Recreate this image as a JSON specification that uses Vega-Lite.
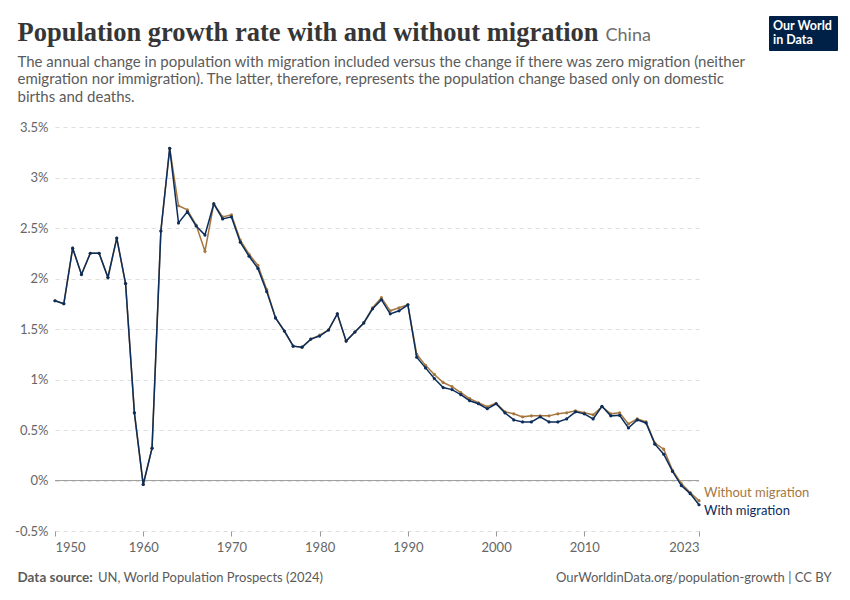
{
  "$schema": "https://vega.github.io/schema/vega-lite/v6.json",
  "description": "China: annual population growth rate with and without migration, 1950-2023",
  "autosize": "none",
  "width": 644,
  "height": 404,
  "padding": {"left": 55, "top": 127, "right": 151, "bottom": 69},
  "background": "white",
  "data": {
    "values": [
      {"year": 1950, "with": 1.78, "without": 1.78},
      {"year": 1951, "with": 1.75, "without": 1.75},
      {"year": 1952, "with": 2.30, "without": 2.30},
      {"year": 1953, "with": 2.04, "without": 2.04},
      {"year": 1954, "with": 2.25, "without": 2.25},
      {"year": 1955, "with": 2.25, "without": 2.25},
      {"year": 1956, "with": 2.01, "without": 2.01},
      {"year": 1957, "with": 2.40, "without": 2.40},
      {"year": 1958, "with": 1.95, "without": 1.95},
      {"year": 1959, "with": 0.67, "without": 0.67},
      {"year": 1960, "with": -0.04, "without": -0.04},
      {"year": 1961, "with": 0.32, "without": 0.32},
      {"year": 1962, "with": 2.47, "without": 2.47},
      {"year": 1963, "with": 3.29, "without": 3.29},
      {"year": 1964, "with": 2.55, "without": 2.72},
      {"year": 1965, "with": 2.66, "without": 2.68},
      {"year": 1966, "with": 2.52, "without": 2.53},
      {"year": 1967, "with": 2.43, "without": 2.27},
      {"year": 1968, "with": 2.74, "without": 2.74},
      {"year": 1969, "with": 2.59, "without": 2.61},
      {"year": 1970, "with": 2.61, "without": 2.63},
      {"year": 1971, "with": 2.36, "without": 2.38},
      {"year": 1972, "with": 2.22, "without": 2.24},
      {"year": 1973, "with": 2.10, "without": 2.13},
      {"year": 1974, "with": 1.87, "without": 1.89},
      {"year": 1975, "with": 1.61, "without": 1.61},
      {"year": 1976, "with": 1.48, "without": 1.48},
      {"year": 1977, "with": 1.33, "without": 1.33},
      {"year": 1978, "with": 1.32, "without": 1.32},
      {"year": 1979, "with": 1.40, "without": 1.40},
      {"year": 1980, "with": 1.43, "without": 1.44},
      {"year": 1981, "with": 1.49, "without": 1.49},
      {"year": 1982, "with": 1.65, "without": 1.65},
      {"year": 1983, "with": 1.38, "without": 1.38},
      {"year": 1984, "with": 1.47, "without": 1.47},
      {"year": 1985, "with": 1.56, "without": 1.56},
      {"year": 1986, "with": 1.70, "without": 1.71},
      {"year": 1987, "with": 1.79, "without": 1.81},
      {"year": 1988, "with": 1.65, "without": 1.68},
      {"year": 1989, "with": 1.68, "without": 1.71},
      {"year": 1990, "with": 1.74, "without": 1.74},
      {"year": 1991, "with": 1.22, "without": 1.25},
      {"year": 1992, "with": 1.115, "without": 1.14},
      {"year": 1993, "with": 1.01, "without": 1.05},
      {"year": 1994, "with": 0.92, "without": 0.97},
      {"year": 1995, "with": 0.90, "without": 0.93},
      {"year": 1996, "with": 0.85, "without": 0.87},
      {"year": 1997, "with": 0.79, "without": 0.81},
      {"year": 1998, "with": 0.76, "without": 0.77},
      {"year": 1999, "with": 0.71, "without": 0.73},
      {"year": 2000, "with": 0.76, "without": 0.765},
      {"year": 2001, "with": 0.67, "without": 0.68},
      {"year": 2002, "with": 0.60, "without": 0.66},
      {"year": 2003, "with": 0.58, "without": 0.63},
      {"year": 2004, "with": 0.58, "without": 0.64},
      {"year": 2005, "with": 0.63, "without": 0.64},
      {"year": 2006, "with": 0.58, "without": 0.64},
      {"year": 2007, "with": 0.58, "without": 0.66},
      {"year": 2008, "with": 0.61, "without": 0.67},
      {"year": 2009, "with": 0.68, "without": 0.69},
      {"year": 2010, "with": 0.66, "without": 0.67},
      {"year": 2011, "with": 0.61, "without": 0.65},
      {"year": 2012, "with": 0.735, "without": 0.73},
      {"year": 2013, "with": 0.64, "without": 0.66},
      {"year": 2014, "with": 0.645, "without": 0.67},
      {"year": 2015, "with": 0.52, "without": 0.56},
      {"year": 2016, "with": 0.60, "without": 0.61},
      {"year": 2017, "with": 0.57, "without": 0.58},
      {"year": 2018, "with": 0.36, "without": 0.37},
      {"year": 2019, "with": 0.26, "without": 0.31},
      {"year": 2020, "with": 0.09, "without": 0.10},
      {"year": 2021, "with": -0.05, "without": -0.03},
      {"year": 2022, "with": -0.13, "without": -0.12},
      {"year": 2023, "with": -0.24, "without": -0.20}
    ]
  },
  "resolve": {"axis": {"x": "independent", "y": "independent"}},
  "layer": [
    {
      "mark": {"type": "rule", "color": "#a1a1a1", "strokeWidth": 1},
      "encoding": {
        "y": {"datum": 0, "type": "quantitative", "axis": null, "scale": {"domain": [-0.5, 3.5], "nice": false}}
      }
    },
    {
      "mark": {"type": "line", "color": "#a5773f", "strokeWidth": 1.5, "point": {"filled": true, "size": 10, "color": "#a5773f"}},
      "encoding": {
        "x": {
          "field": "year", "type": "quantitative",
          "scale": {"domain": [1950, 2023], "nice": false, "zero": false},
          "axis": {
            "orient": "top", "labels": false, "ticks": false, "domain": false, "grid": false,
            "title": "Population growth rate with and without migration",
            "titleFont": "Liberation Serif", "titleFontSize": 26.5, "titleFontWeight": "bold", "titleColor": "#363636",
            "titleX": -38, "titleY": -87, "titleAlign": "left", "titleBaseline": "alphabetic", "titleLimit": 1000
          }
        },
        "y": {
          "field": "without", "type": "quantitative",
          "scale": {"domain": [-0.5, 3.5], "nice": false},
          "axis": {
            "orient": "left", "labels": false, "ticks": false, "domain": false, "grid": false,
            "title": "China",
            "titleFont": "Lato", "titleFontSize": 18, "titleFontWeight": "normal", "titleColor": "#6e6e6e",
            "titleAngle": 0, "titleX": 550, "titleY": -87, "titleAlign": "left", "titleBaseline": "alphabetic", "titleLimit": 1000
          }
        }
      }
    },
    {
      "mark": {"type": "line", "color": "#0b2d5b", "strokeWidth": 1.5, "point": {"filled": true, "size": 10, "color": "#0b2d5b"}},
      "encoding": {
        "x": {
          "field": "year", "type": "quantitative",
          "scale": {"domain": [1950, 2023], "nice": false, "zero": false},
          "axis": {
            "orient": "bottom", "values": [1950, 1960, 1970, 1980, 1990, 2000, 2010, 2023], "format": "d",
            "labelFlush": true, "labelFont": "Lato", "labelFontSize": 13, "labelColor": "#666666",
            "labelPadding": 5, "tickSize": 5, "tickColor": "#9a9a9a", "domain": false, "grid": false,
            "title": "Data source:",
            "titleFont": "Lato", "titleFontSize": 13.5, "titleFontWeight": "bold", "titleColor": "#5b5b5b",
            "titleX": -38, "titleY": 50.5, "titleAlign": "left", "titleBaseline": "alphabetic", "titleLimit": 1000
          }
        },
        "y": {
          "field": "with", "type": "quantitative",
          "scale": {"domain": [-0.5, 3.5], "nice": false},
          "axis": {
            "orient": "left", "values": [-0.5, 0, 0.5, 1, 1.5, 2, 2.5, 3, 3.5],
            "labelExpr": "datum.value + '%'",
            "labelFont": "Lato", "labelFontSize": 13, "labelColor": "#666666", "labelPadding": 7,
            "ticks": false, "tickSize": 0, "domain": false,
            "grid": true, "gridColor": "#dddddd", "gridDash": [4, 4], "gridWidth": 1,
            "title": [
              "The annual change in population with migration included versus the change if there was zero migration (neither",
              "emigration nor immigration). The latter, therefore, represents the population change based only on domestic",
              "births and deaths."
            ],
            "titleFont": "Lato", "titleFontSize": 15, "titleFontWeight": "normal", "titleColor": "#5b5b5b",
            "titleAngle": 0, "titleX": -38, "titleY": -60.5, "titleAlign": "left", "titleBaseline": "alphabetic",
            "titleLineHeight": 17.3, "titleLimit": 1000
          }
        }
      }
    },
    {
      "transform": [{"filter": "datum.year == 2023"}],
      "mark": {"type": "text", "align": "left", "baseline": "alphabetic", "dx": 5, "dy": -3.5, "font": "Lato", "fontSize": 13},
      "encoding": {
        "x": {
          "field": "year", "type": "quantitative",
          "axis": {
            "orient": "bottom", "labels": false, "ticks": false, "domain": false, "grid": false,
            "title": "UN, World Population Prospects (2024)",
            "titleFont": "Lato", "titleFontSize": 13, "titleFontWeight": "normal", "titleColor": "#5b5b5b",
            "titleX": 42.5, "titleY": 50.5, "titleAlign": "left", "titleBaseline": "alphabetic", "titleLimit": 1000
          }
        },
        "y": {
          "field": "without", "type": "quantitative",
          "axis": {
            "orient": "right", "labels": false, "ticks": false, "domain": false, "grid": false,
            "title": "OurWorldinData.org/population-growth | CC BY",
            "titleFont": "Lato", "titleFontSize": 13, "titleFontWeight": "normal", "titleColor": "#5b5b5b",
            "titleAngle": 0, "titleX": 132, "titleY": 454.7, "titleAlign": "right", "titleBaseline": "alphabetic", "titleLimit": 1000
          }
        },
        "text": {"value": "Without migration"},
        "color": {
          "datum": "Without migration",
          "scale": {"domain": ["With migration", "Without migration"], "range": ["#0b2d5b", "#a5773f"]},
          "legend": {
            "orient": "none", "legendX": 714, "legendY": -111, "values": [],
            "fillColor": "#002147", "padding": 4, "strokeColor": "#002147",
            "title": ["Our World", "\u00a0\u00a0\u00a0in Data"], "titleColor": "white", "titleFont": "Lato",
            "titleFontWeight": "bold", "titleFontSize": 12.5, "titleLineHeight": 13.5,
            "titleAlign": "left", "titleAnchor": "start", "titlePadding": 0
          }
        }
      }
    },
    {
      "transform": [{"filter": "datum.year == 2023"}],
      "mark": {"type": "text", "align": "left", "baseline": "alphabetic", "dx": 5, "dy": 10.7, "font": "Lato", "fontSize": 13},
      "encoding": {
        "x": {"field": "year", "type": "quantitative", "axis": null},
        "y": {"field": "with", "type": "quantitative", "axis": null},
        "text": {"value": "With migration"},
        "color": {"datum": "With migration"}
      }
    }
  ],
  "config": {
    "view": {"stroke": null}
  }
}
